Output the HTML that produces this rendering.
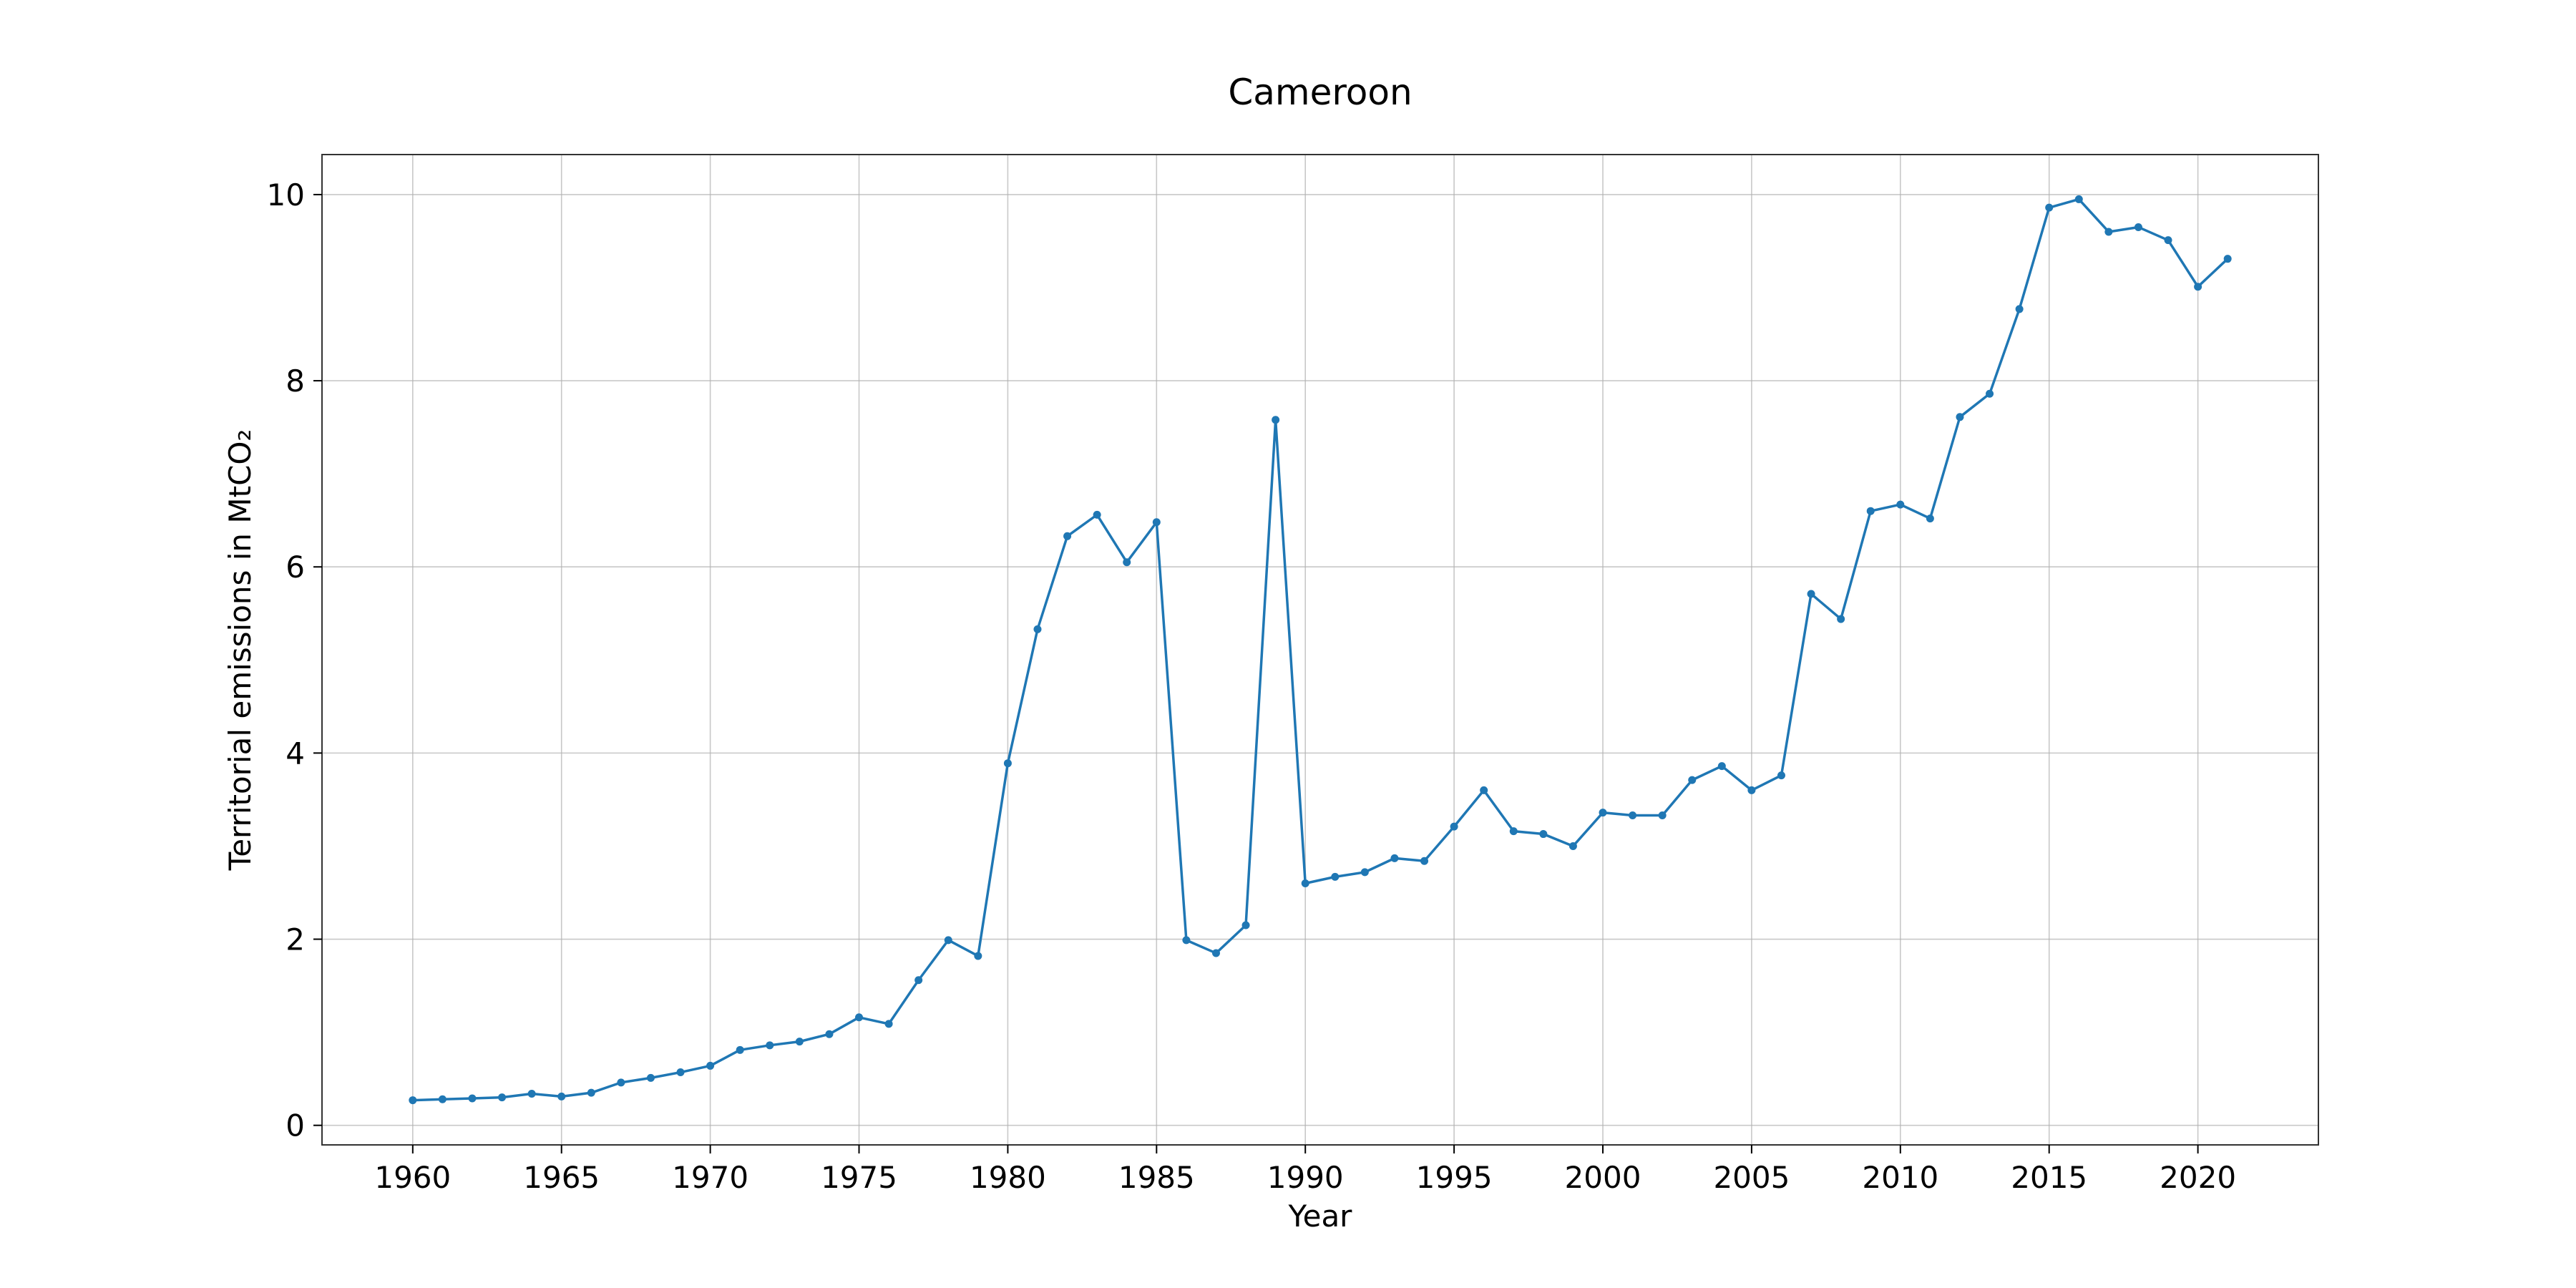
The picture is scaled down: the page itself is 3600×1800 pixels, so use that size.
<!DOCTYPE html>
<html><head><meta charset="utf-8"><style>
html,body{margin:0;padding:0;background:#fff;}
svg{display:block;font-family:"DejaVu Sans","Liberation Sans",sans-serif;}
</style></head><body>
<svg id="chart" width="3600" height="1800" viewBox="0 0 3600 1800">
<rect x="0" y="0" width="3600" height="1800" fill="#fff"/>
<g id="grid"></g>
<g id="series"></g>
<rect x="450" y="216" width="2790" height="1384" fill="none" stroke="#333" stroke-width="2"/>
<g id="ticks"></g>
<text x="1845" y="146" font-size="50" text-anchor="middle">Cameroon</text>
<text x="1845" y="1714" font-size="42" text-anchor="middle">Year</text>
<text x="0" y="0" font-size="42" text-anchor="middle" transform="translate(350,908) rotate(-90)">Territorial emissions in MtCO₂</text>
</svg>
<script>
const years=[1960,1961,1962,1963,1964,1965,1966,1967,1968,1969,1970,1971,1972,1973,1974,1975,1976,1977,1978,1979,1980,1981,1982,1983,1984,1985,1986,1987,1988,1989,1990,1991,1992,1993,1994,1995,1996,1997,1998,1999,2000,2001,2002,2003,2004,2005,2006,2007,2008,2009,2010,2011,2012,2013,2014,2015,2016,2017,2018,2019,2020,2021];
const emissions=[0.27,0.28,0.29,0.30,0.34,0.31,0.35,0.46,0.51,0.57,0.64,0.81,0.86,0.90,0.98,1.16,1.09,1.56,1.99,1.82,3.89,5.33,6.33,6.56,6.05,6.48,1.99,1.85,2.15,7.58,2.60,2.67,2.72,2.87,2.84,3.21,3.60,3.16,3.13,3.00,3.36,3.33,3.33,3.71,3.86,3.60,3.76,5.71,5.44,6.60,6.67,6.52,7.61,7.86,8.77,9.86,9.95,9.60,9.65,9.51,9.01,9.31];
const xTicks=[1960,1965,1970,1975,1980,1985,1990,1995,2000,2005,2010,2015,2020];
const yTicks=[0,2,4,6,8,10];
const L=450,R=3240,T=216,B=1600;
const xMin=1956.95,xMax=2024.05,yMin=-0.21,yMax=10.43;
const sx=v=>L+(v-xMin)/(xMax-xMin)*(R-L);
const sy=v=>B-(v-yMin)/(yMax-yMin)*(B-T);
const NS="http://www.w3.org/2000/svg";
function mk(tag,attrs,parent){const e=document.createElementNS(NS,tag);for(const k in attrs)e.setAttribute(k,attrs[k]);parent.appendChild(e);return e;}
const grid=document.getElementById('grid'),ticks=document.getElementById('ticks'),series=document.getElementById('series');
xTicks.forEach(t=>{const x=sx(t);
 const g=mk('line',{x1:x,x2:x,y1:T,y2:B,stroke:'#b0b0b0','stroke-width':1.6,'stroke-opacity':0.7},grid);
 
 
 const tk=mk('line',{x1:x,x2:x,y1:B,y2:B+12,stroke:'#000','stroke-width':2},ticks);
 
 
 const lb=mk('text',{x:x,y:B+60,'font-size':42,'text-anchor':'middle'},ticks);lb.textContent=t;
 
 
});
yTicks.forEach(t=>{const y=sy(t);
 const g=mk('line',{x1:L,x2:R,y1:y,y2:y,stroke:'#b0b0b0','stroke-width':1.6,'stroke-opacity':0.7},grid);
 
 
 const tk=mk('line',{x1:L-12,x2:L,y1:y,y2:y,stroke:'#000','stroke-width':2},ticks);
 
 
 const lb=mk('text',{x:L-24,y:y+15,'font-size':42,'text-anchor':'end'},ticks);lb.textContent=t;
 
 
});
const pts=years.map((y,i)=>sx(y)+','+sy(emissions[i])).join(' ');
const pl=mk('polyline',{points:pts,fill:'none',stroke:'#1f77b4','stroke-width':3.5,'stroke-linejoin':'round'},series);


years.forEach((y,i)=>{const c=mk('circle',{cx:sx(y),cy:sy(emissions[i]),r:5.5,fill:'#1f77b4'},series);
 
 
});
</script>
</body></html>
